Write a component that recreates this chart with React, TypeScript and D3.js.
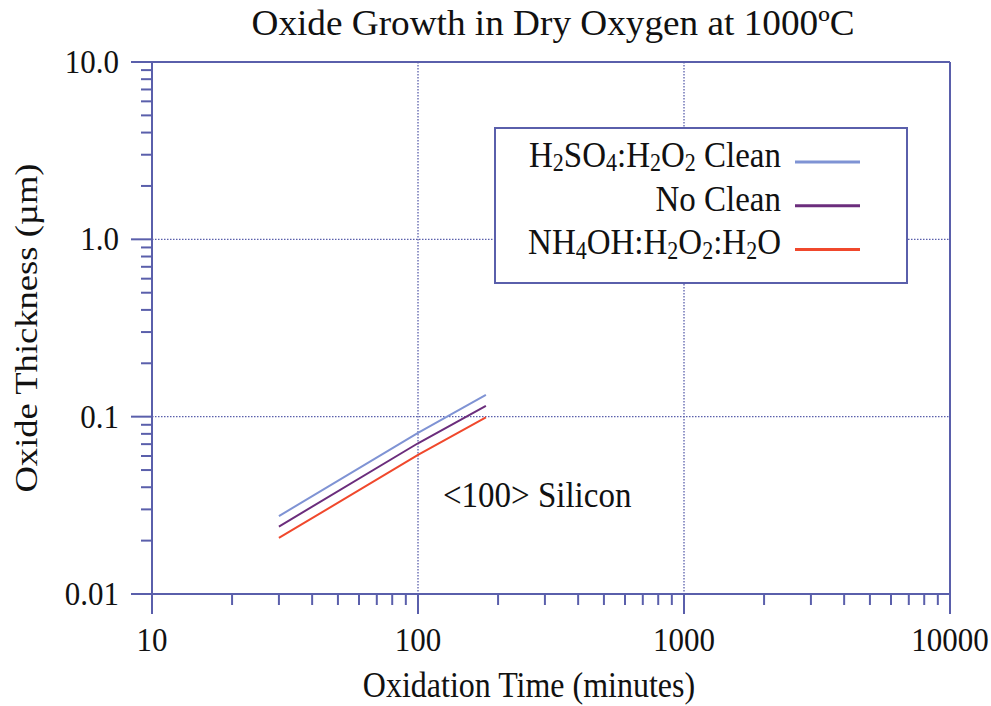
import React, { useEffect, useRef } from 'react';
import * as d3 from 'd3';

// oxidation time (minutes) and oxide thickness (um)
const times = [30, 100, 180];
const sulfuricClean = [0.0275, 0.081, 0.1325];
const noClean = [0.024, 0.0708, 0.115];
const ammoniaClean = [0.0207, 0.0608, 0.099];

const xTicks = [10, 100, 1000, 10000];
const xTickLabels = ['10', '100', '1000', '10000'];
const yTicks = [0.01, 0.1, 1, 10];
const yTickLabels = ['0.01', '0.1', '1.0', '10.0'];

const series = [
  { name: 'sulfuric', values: sulfuricClean, color: '#7f93d4' },
  { name: 'none', values: noClean, color: '#6b2d7c' },
  { name: 'ammonia', values: ammoniaClean, color: '#f0482c' },
];

const AXIS = '#5a5fab';
const FONT = '"Liberation Serif", "DejaVu Serif", serif';
// the source picture is a bit stretched vertically, so text is too
const SY = 1.1;

const App = () => {
  const ref = useRef<SVGSVGElement>(null);

  useEffect(() => {
    const svg = d3.select(ref.current);
    svg.selectAll('*').remove();

    const left = 152, right = 950, top = 62, bottom = 594;

    const x = d3.scaleLog().domain([10, 10000]).range([left, right]);
    const y = d3.scaleLog().domain([0.01, 10]).range([bottom, top]);

    const text = (tx: number, ty: number, size: number, anchor: string, str: string) =>
      svg.append('text')
        .attr('transform', `translate(${tx},${ty}) scale(1,${SY})`)
        .attr('text-anchor', anchor)
        .attr('font-family', FONT).attr('font-size', size)
        .attr('fill', '#111')
        .text(str);

    // dotted grid at inner decades
    const grid = svg.append('g');
    [100, 1000].forEach(v => {
      grid.append('line')
        .attr('x1', x(v)).attr('x2', x(v))
        .attr('y1', top).attr('y2', bottom)
        .attr('stroke', AXIS).attr('stroke-width', 1.3)
        .attr('stroke-dasharray', '1.5,1.5');
    });
    [0.1, 1].forEach(v => {
      grid.append('line')
        .attr('x1', left).attr('x2', right)
        .attr('y1', y(v)).attr('y2', y(v))
        .attr('stroke', AXIS).attr('stroke-width', 1.3)
        .attr('stroke-dasharray', '1.5,1.5');
    });

    // data lines
    const line = d3.line<number>()
      .x((d, i) => x(times[i]))
      .y(d => y(d));

    series.forEach(s => {
      svg.append('path')
        .datum(s.values)
        .attr('d', line)
        .attr('fill', 'none')
        .attr('stroke', s.color)
        .attr('stroke-width', 2);
    });

    // frame
    const frame = svg.append('g').attr('stroke', AXIS).attr('stroke-width', 2);
    frame.append('line').attr('x1', left).attr('x2', left).attr('y1', top).attr('y2', bottom);
    frame.append('line').attr('x1', right).attr('x2', right).attr('y1', top).attr('y2', bottom + 20);
    frame.append('line').attr('x1', left - 21).attr('x2', right).attr('y1', top).attr('y2', top);
    frame.append('line').attr('x1', left - 21).attr('x2', right).attr('y1', bottom).attr('y2', bottom);

    // major ticks
    xTicks.forEach(v => {
      frame.append('line').attr('x1', x(v)).attr('x2', x(v)).attr('y1', bottom).attr('y2', bottom + 20);
    });
    yTicks.forEach(v => {
      frame.append('line').attr('x1', left - 21).attr('x2', left).attr('y1', y(v)).attr('y2', y(v));
    });

    // minor ticks
    const minorX: number[] = [];
    const minorY: number[] = [];
    for (let d = 10; d < 10000; d *= 10) {
      for (let k = 2; k <= 9; k++) minorX.push(d * k);
    }
    for (let d = 0.01; d < 9; d *= 10) {
      for (let k = 2; k <= 9; k++) minorY.push(d * k);
    }
    minorX.forEach(v => {
      frame.append('line').attr('x1', x(v)).attr('x2', x(v)).attr('y1', bottom).attr('y2', bottom + 11);
    });
    minorY.forEach(v => {
      frame.append('line').attr('x1', left - 11).attr('x2', left).attr('y1', y(v)).attr('y2', y(v));
    });

    // tick labels
    xTicks.forEach((v, i) => text(x(v), 651, 31, 'middle', xTickLabels[i]));
    yTicks.forEach((v, i) => text(119, y(v) + 11, 31, 'end', yTickLabels[i]));

    // titles
    text(553, 35, 32, 'middle', 'Oxide Growth in Dry Oxygen at 1000ºC')
      .attr('textLength', 603).attr('lengthAdjust', 'spacingAndGlyphs');
    text(529, 697, 32, 'middle', 'Oxidation Time (minutes)');

    svg.append('text')
      .attr('transform', `translate(37,${(top + bottom) / 2}) rotate(-90) scale(${SY + 0.08},1)`)
      .attr('text-anchor', 'middle')
      .attr('font-family', FONT).attr('font-size', 31)
      .attr('fill', '#111')
      .text('Oxide Thickness (µm)');

    text(443, 507, 33, 'start', '<100> Silicon');

    // legend
    const legend = svg.append('g');
    legend.append('rect')
      .attr('x', 495).attr('y', 128)
      .attr('width', 412).attr('height', 155)
      .attr('fill', '#fff')
      .attr('stroke', AXIS).attr('stroke-width', 2);

    const legendRows: [string, boolean][][] = [
      [['H', false], ['2', true], ['SO', false], ['4', true], [':H', false], ['2', true], ['O', false], ['2', true], [' Clean', false]],
      [['No Clean', false]],
      [['NH', false], ['4', true], ['OH:H', false], ['2', true], ['O', false], ['2', true], [':H', false], ['2', true], ['O', false]],
    ];
    legendRows.forEach((parts, i) => {
      const cy = 162 + i * 43.7;
      const t = text(781, cy + 5, 33, 'end', '');
      let sub = false;
      parts.forEach(([txt, isSub]) => {
        const span = t.append('tspan').text(txt);
        if (isSub) {
          span.attr('font-size', 22).attr('dy', sub ? 0 : 4);
        } else if (sub) {
          span.attr('dy', -4);
        }
        sub = isSub;
      });
      legend.append('line')
        .attr('x1', 795).attr('x2', 860)
        .attr('y1', cy).attr('y2', cy)
        .attr('stroke', series[i].color).attr('stroke-width', 3);
    });
  }, []);

  return (
    <svg ref={ref} width={991} height={706}
      style={{ position: 'absolute', left: 0, top: 0, background: '#fff' }} />
  );
};

export default App;
